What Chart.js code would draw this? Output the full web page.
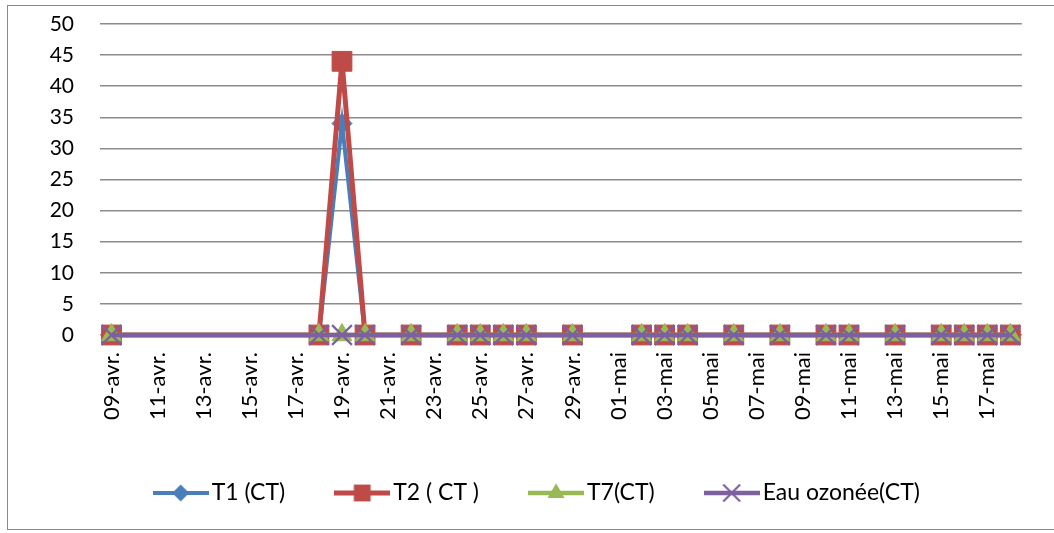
<!DOCTYPE html>
<html>
<head>
<meta charset="utf-8">
<script src="https://cdn.jsdelivr.net/npm/chart.js@4/dist/chart.umd.min.js"></script>
<style>
  html, body { margin: 0; padding: 0; background: #fff; width: 1054px; height: 533px; overflow: hidden; }
  #frame { position: absolute; left: 7px; top: 5px; width: 1070px; height: 525px; border: 1.5px solid #8a8a8a; box-sizing: border-box; }
  #wrap { position: absolute; left: 0; top: 0; width: 1054px; height: 533px; }
</style>
</head>
<body>
<div id="frame"></div>
<div id="wrap"><canvas id="c" width="1054" height="533"></canvas></div>
<script>
// Every day of the period (category axis), labelled every second day
const days = [
  '09-avr.', '10-avr.', '11-avr.', '12-avr.', '13-avr.', '14-avr.', '15-avr.', '16-avr.',
  '17-avr.', '18-avr.', '19-avr.', '20-avr.', '21-avr.', '22-avr.', '23-avr.', '24-avr.',
  '25-avr.', '26-avr.', '27-avr.', '28-avr.', '29-avr.', '30-avr.',
  '01-mai', '02-mai', '03-mai', '04-mai', '05-mai', '06-mai', '07-mai', '08-mai',
  '09-mai', '10-mai', '11-mai', '12-mai', '13-mai', '14-mai', '15-mai', '16-mai',
  '17-mai', '18-mai'
];

// Days on which a sample was taken
const sampleDays = [
  '09-avr.', '18-avr.', '19-avr.', '20-avr.', '22-avr.', '24-avr.', '25-avr.', '26-avr.',
  '27-avr.', '29-avr.', '02-mai', '03-mai', '04-mai', '06-mai', '08-mai', '10-mai',
  '11-mai', '13-mai', '15-mai', '16-mai', '17-mai', '18-mai'
];

// Coliformes totaux per sample day
const t1  = [0, 0, 34, 0, 0, 0, 0, 0, 0, 0, 0, 0, 0, 0, 0, 0, 0, 0, 0, 0, 0, 0];
const t2  = [0, 0, 44, 0, 0, 0, 0, 0, 0, 0, 0, 0, 0, 0, 0, 0, 0, 0, 0, 0, 0, 0];
const t7  = [0, 0, 0, 0, 0, 0, 0, 0, 0, 0, 0, 0, 0, 0, 0, 0, 0, 0, 0, 0, 0, 0];
const eauOzonee = [0, 0, 0, 0, 0, 0, 0, 0, 0, 0, 0, 0, 0, 0, 0, 0, 0, 0, 0, 0, 0, 0];

const seriesNames = ['T1 (CT)', 'T2 ( CT )', 'T7(CT)', 'Eau ozonée(CT)'];
const yTicks = { min: 0, max: 50, step: 5 };

const FONT = 'Lato';
const colors = ['#4a7ebb', '#be4b48', '#98b954', '#7d60a0'];
const markers = [
  { style: 'rectRot', radius: 10, border: 1, line: 4 },
  { style: 'rect', radius: 14, border: 1, line: 5 },
  { style: 'triangle', radius: 11.5, border: 1, line: 4.5 },
  { style: 'crossRot', radius: 14, border: 2.2, line: 4.5 }
];

function points(values) {
  return sampleDays.map((d, i) => ({ x: d, y: values[i] }));
}

// Legend icon: a short line with the series marker in its middle
function legendIcon(color, m) {
  const w = 56, h = 28, cx = w / 2, cy = 14;
  const cv = document.createElement('canvas');
  cv.width = w; cv.height = h;
  const g = cv.getContext('2d');
  g.strokeStyle = color; g.fillStyle = color;
  g.lineWidth = m.line;
  g.beginPath(); g.moveTo(0, cy); g.lineTo(w, cy); g.stroke();
  const r = m.radius * 0.85;
  g.beginPath();
  if (m.style === 'rectRot') {
    g.moveTo(cx, cy - r); g.lineTo(cx + r, cy); g.lineTo(cx, cy + r); g.lineTo(cx - r, cy); g.closePath(); g.fill();
  } else if (m.style === 'rect') {
    const s = r * Math.SQRT1_2; g.rect(cx - s, cy - s, 2 * s, 2 * s); g.fill();
  } else if (m.style === 'triangle') {
    g.moveTo(cx, cy - r);
    g.lineTo(cx + r * Math.sin(2 * Math.PI / 3), cy - r * Math.cos(2 * Math.PI / 3));
    g.lineTo(cx - r * Math.sin(2 * Math.PI / 3), cy - r * Math.cos(2 * Math.PI / 3));
    g.closePath(); g.fill();
  } else {
    const s = r * Math.SQRT1_2;
    g.lineWidth = m.border;
    g.moveTo(cx - s, cy - s); g.lineTo(cx + s, cy + s);
    g.moveTo(cx + s, cy - s); g.lineTo(cx - s, cy + s); g.stroke();
  }
  return cv;
}

const seriesValues = [t1, t2, t7, eauOzonee];
const datasets = seriesValues.map((vals, i) => ({
  label: seriesNames[i],
  data: points(vals),
  borderColor: colors[i],
  backgroundColor: colors[i],
  borderWidth: markers[i].line,
  pointStyle: markers[i].style,
  pointRadius: markers[i].radius,
  pointBackgroundColor: colors[i],
  pointBorderColor: colors[i],
  pointBorderWidth: markers[i].border,
  tension: 0,
  clip: false,
  order: 3 - i   // later series are drawn above earlier ones
}));

const icons = seriesValues.map((_, i) => legendIcon(colors[i], markers[i]));

new Chart(document.getElementById('c'), {
  type: 'line',
  data: { labels: days, datasets },
  options: {
    responsive: false,
    animation: false,
    devicePixelRatio: 1,
    layout: { padding: { top: 24, left: 48, right: 21, bottom: 18.5 } },
    plugins: {
      tooltip: { enabled: false },
      legend: {
        position: 'bottom',
        labels: {
          usePointStyle: true,
          pointStyleWidth: 39,
          padding: 57.5,
          color: '#000',
          font: { family: FONT, size: 23 },
          generateLabels(chart) {
            const items = Chart.defaults.plugins.legend.labels.generateLabels(chart);
            items.forEach(it => { it.pointStyle = icons[it.datasetIndex]; });
            return items;
          },
          sort: (a, b) => a.datasetIndex - b.datasetIndex
        }
      }
    },
    scales: {
      x: {
        type: 'category',
        offset: true,
        grid: { display: false, drawTicks: false },
        border: { display: false },
        ticks: {
          autoSkip: false,
          minRotation: 90,
          maxRotation: 90,
          padding: 17,
          color: '#000',
          font: { family: FONT, size: 22 },
          callback(value, index) { return index % 2 === 0 ? days[index] : ''; }
        },
        afterFit(scale) { scale.height = 89; }
      },
      y: {
        min: yTicks.min,
        max: yTicks.max,
        grid: { color: '#8c8c8c', lineWidth: 1.6, drawTicks: false },
        border: { display: false },
        ticks: {
          stepSize: yTicks.step,
          padding: 26,
          color: '#000',
          font: { family: FONT, size: 21 }
        },
        afterFit(scale) {
          scale.width = 52;
          scale.paddingTop = 0;
          scale.paddingBottom = 0;
        }
      }
    }
  }
});
</script>
</body>
</html>
